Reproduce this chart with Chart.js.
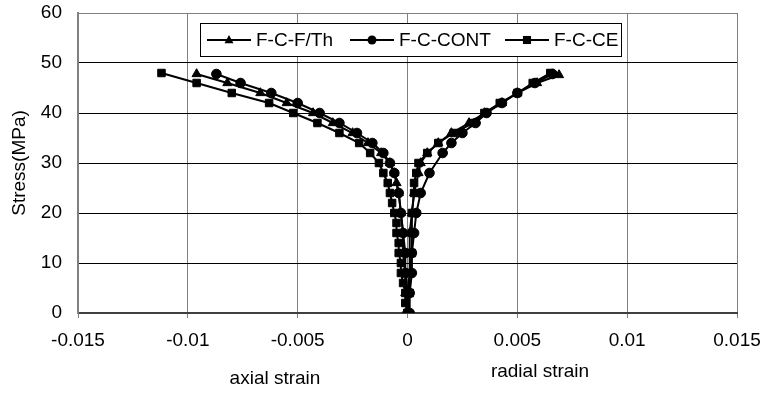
<!DOCTYPE html>
<html>
<head>
<meta charset="utf-8">
<script src="https://cdn.jsdelivr.net/npm/chart.js@4.4.0/dist/chart.umd.min.js"></script>
<style>
  html, body { margin: 0; padding: 0; background: #fff; }
</style>
</head>
<body>
<canvas id="chart" width="765" height="393"></canvas>
<script>
const seriesNames = ['F-C-F/Th', 'F-C-CONT', 'F-C-CE'];
const seriesMarkers = ['triangle', 'circle', 'rect'];

// F-C-F/Th
const thAxialStress  = [0, 4, 8, 12, 16, 20, 24, 26, 28, 30, 32, 34, 36, 38, 40, 42, 44, 46, 47.8];
const thAxialStrain  = [0, -0.0001, -0.0001, -0.0002, -0.0002, -0.0003, -0.0004, -0.0005, -0.0006, -0.0008, -0.0012, -0.0018, -0.0025, -0.0034, -0.0043, -0.0055, -0.0067, -0.0082, -0.0096];
const thRadialStress = [0, 4, 8, 12, 16, 20, 24, 28, 30, 32, 34, 36, 38, 40, 42, 44, 46, 47.6];
const thRadialStrain = [0, 0, 0.0001, 0.0001, 0.0001, 0.0002, 0.0003, 0.0005, 0.0006, 0.0009, 0.0014, 0.0020, 0.0028, 0.0035, 0.0043, 0.0050, 0.0059, 0.0069];

// F-C-CONT
const contAxialStress  = [0, 4, 8, 12, 16, 20, 24, 28, 30, 32, 34, 36, 38, 40, 42, 44, 46, 47.8];
const contAxialStrain  = [0, 0, -0.0001, -0.0001, -0.0002, -0.0003, -0.0004, -0.0006, -0.0008, -0.0011, -0.0016, -0.0023, -0.0031, -0.0040, -0.0050, -0.0062, -0.0076, -0.0087];
const contRadialStress = [0, 4, 8, 12, 16, 20, 24, 28, 32, 34, 36, 38, 40, 42, 44, 46, 47.8];
const contRadialStrain = [0.0001, 0.0001, 0.0002, 0.0002, 0.0003, 0.0004, 0.0006, 0.0010, 0.0016, 0.0020, 0.0025, 0.0031, 0.0036, 0.0043, 0.0050, 0.0058, 0.0066];

// F-C-CE
const ceAxialStress  = [0, 2, 4, 6, 8, 10, 12, 14, 16, 18, 20, 22, 24, 26, 28, 30, 32, 34, 36, 38, 40, 42, 44, 46, 48];
const ceAxialStrain  = [0, -0.0001, -0.0001, -0.0002, -0.0003, -0.0003, -0.0004, -0.0004, -0.0005, -0.0005, -0.0006, -0.0007, -0.0008, -0.0009, -0.0011, -0.0013, -0.0017, -0.0022, -0.0031, -0.0041, -0.0052, -0.0063, -0.0080, -0.0096, -0.0112];
const ceRadialStress = [0, 4, 8, 12, 16, 20, 24, 26, 28, 30, 32, 34, 36, 38, 40, 42, 44, 46, 48];
const ceRadialStrain = [0, 0.0001, 0.0001, 0.0002, 0.0002, 0.0002, 0.0003, 0.0003, 0.0004, 0.0005, 0.0009, 0.0014, 0.0021, 0.0030, 0.0035, 0.0042, 0.0050, 0.0057, 0.0065];

const xTickValues = [-0.015, -0.01, -0.005, 0, 0.005, 0.01, 0.015];
const xTickLabels = ['-0.015', '-0.01', '-0.005', '0', '0.005', '0.01', '0.015'];
const yTickValues = [0, 10, 20, 30, 40, 50, 60];
const yTickLabels = ['0', '10', '20', '30', '40', '50', '60'];

const FONT = 'Liberation Sans, Arial, sans-serif';

function points(strain, stress) {
  return strain.map((x, i) => ({ x: x, y: stress[i] }));
}

function branch(name, idx, strain, stress) {
  return {
    label: name,
    data: points(strain, stress),
    borderColor: '#000',
    backgroundColor: '#000',
    borderWidth: 2,
    pointStyle: seriesMarkers[idx],
    pointRadius: idx === 1 ? 4.8 : 5.3,
    pointBorderWidth: 1,
    showLine: true,
    fill: false
  };
}

const datasets = [
  branch(seriesNames[0], 0, thAxialStrain, thAxialStress),
  branch(seriesNames[1], 1, contAxialStrain, contAxialStress),
  branch(seriesNames[2], 2, ceAxialStrain, ceAxialStress),
  branch(seriesNames[0], 0, thRadialStrain, thRadialStress),
  branch(seriesNames[1], 1, contRadialStrain, contRadialStress),
  branch(seriesNames[2], 2, ceRadialStrain, ceRadialStress)
];

function drawMarker(ctx, style, x, y, r) {
  ctx.beginPath();
  if (style === 'circle') {
    ctx.arc(x, y, r, 0, Math.PI * 2);
  } else if (style === 'rect') {
    ctx.rect(x - r * 0.9, y - r * 0.9, r * 1.8, r * 1.8);
  } else {
    ctx.moveTo(x, y - r * 1.1);
    ctx.lineTo(x + r, y + r * 0.7);
    ctx.lineTo(x - r, y + r * 0.7);
    ctx.closePath();
  }
  ctx.fill();
}

// legend box with line + marker samples, and the two x axis captions
const extras = {
  id: 'extras',
  afterDraw(chart) {
    const ctx = chart.ctx;
    ctx.save();
    // legend
    ctx.fillStyle = '#fff';
    ctx.fillRect(200, 23, 421, 33);
    ctx.strokeStyle = '#000';
    ctx.lineWidth = 1;
    ctx.strokeRect(200.5, 23.5, 421, 33);
    const starts = [207, 350, 505];
    ctx.font = '19px ' + FONT;
    ctx.textBaseline = 'middle';
    ctx.textAlign = 'left';
    seriesNames.forEach((name, i) => {
      const x0 = starts[i];
      const cy = 40;
      ctx.strokeStyle = '#000';
      ctx.lineWidth = 2;
      ctx.beginPath();
      ctx.moveTo(x0, cy);
      ctx.lineTo(x0 + 44, cy);
      ctx.stroke();
      ctx.fillStyle = '#000';
      drawMarker(ctx, seriesMarkers[i], x0 + 22, cy, 4.5);
      ctx.fillText(name, x0 + 49, cy + 1);
    });
    // x captions
    ctx.textAlign = 'center';
    ctx.fillStyle = '#000';
    ctx.fillText('axial strain', 275, 379);
    ctx.fillText('radial strain', 540, 372);
    ctx.restore();
  }
};

new Chart(document.getElementById('chart'), {
  type: 'scatter',
  data: { datasets: datasets },
  plugins: [extras],
  options: {
    responsive: false,
    animation: false,
    layout: { padding: { top: 13, right: 28, left: 0, bottom: 0 } },
    plugins: {
      legend: { display: false },
      tooltip: { enabled: false }
    },
    scales: {
      x: {
        type: 'linear',
        min: -0.015,
        max: 0.015,
        afterBuildTicks: s => { s.ticks = xTickValues.map(v => ({ value: v })); },
        afterFit: s => { s.height = 80; s.paddingLeft = 0; s.paddingRight = 0; },
        ticks: {
          callback: (v, i) => xTickLabels[i],
          color: '#000',
          font: { family: FONT, size: 19 },
          padding: 11,
          maxRotation: 0
        },
        grid: { color: '#808080', lineWidth: 1, tickLength: 5, tickColor: '#808080' },
        border: { color: '#404040', width: 2 }
      },
      y: {
        min: 0,
        max: 60,
        afterBuildTicks: s => { s.ticks = yTickValues.map(v => ({ value: v })); },
        afterFit: s => { s.width = 78; s.paddingTop = 0; s.paddingBottom = 0; },
        ticks: {
          callback: (v, i) => yTickLabels[i],
          color: '#000',
          font: { family: FONT, size: 19 },
          padding: 16
        },
        grid: {
          color: c => (c.tick && c.tick.value === 60) ? '#808080' : '#000',
          lineWidth: 1,
          drawTicks: false
        },
        border: { color: '#808080', width: 2 },
        title: {
          display: true,
          text: 'Stress(MPa)',
          color: '#000',
          font: { family: FONT, size: 19 },
          padding: { top: 8, bottom: 0 }
        }
      }
    }
  }
});
</script>
</body>
</html>
